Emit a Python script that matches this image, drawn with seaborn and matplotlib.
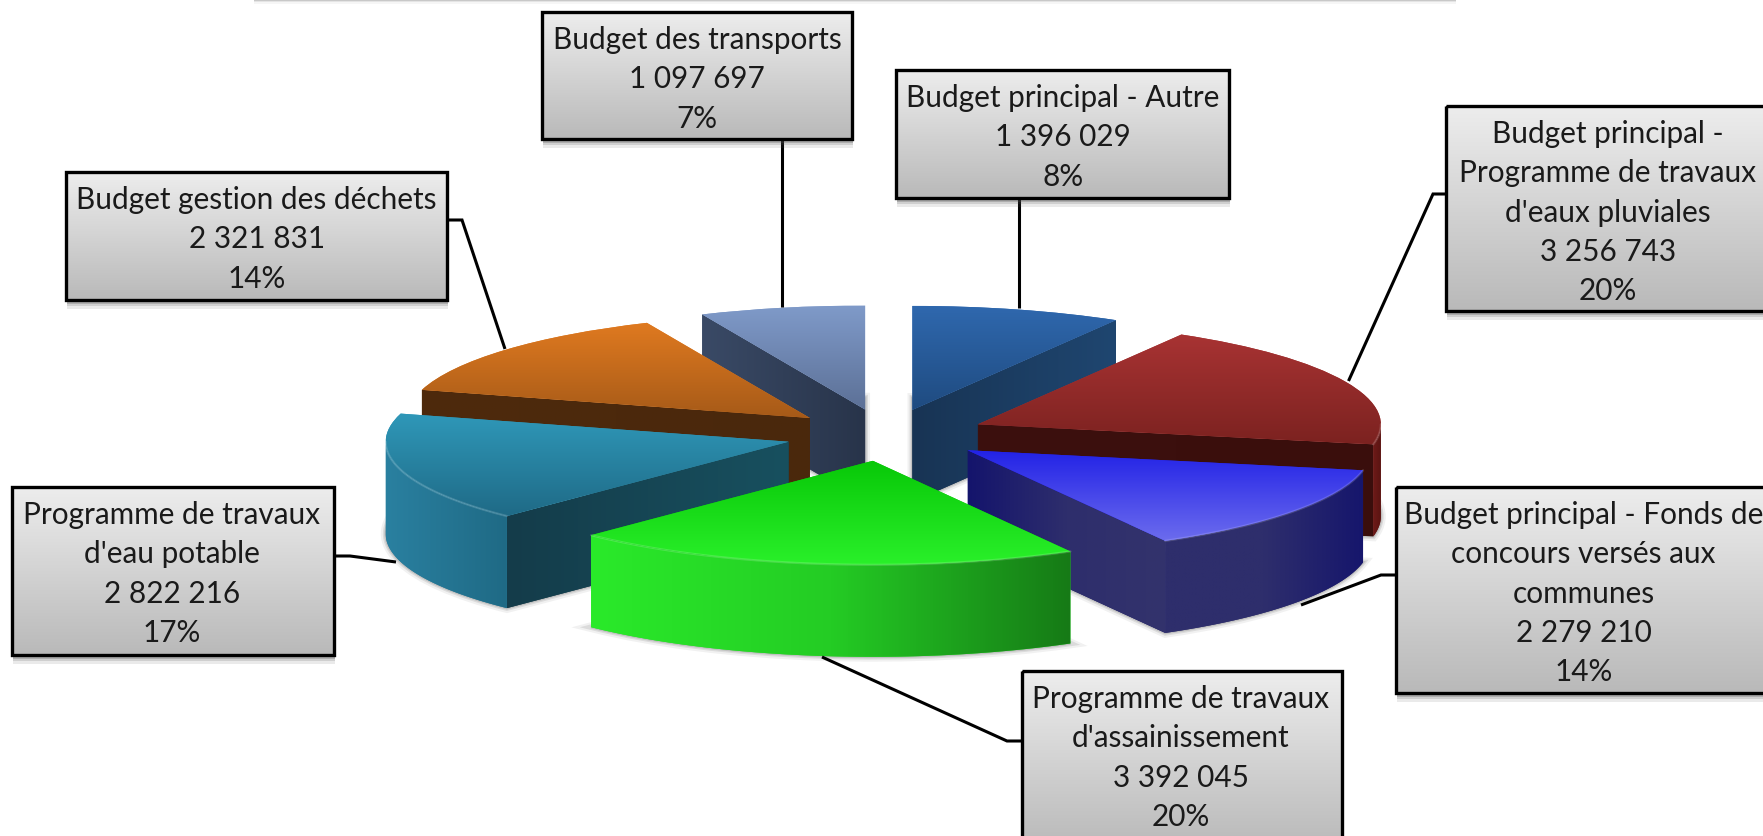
import numpy as np
import matplotlib
matplotlib.use('Agg')
import matplotlib.pyplot as plt
import matplotlib.patches as mpatches
import seaborn as sns

sns.set_theme(style='white')
plt.rcParams['font.family'] = ['Lato', 'DejaVu Sans']

# data, clockwise from 12 o'clock
labels = [
    ['Budget principal - Autre'],
    ['Budget principal -', 'Programme de travaux', "d'eaux pluviales"],
    ['Budget principal - Fonds de', 'concours versés aux', 'communes'],
    ['Programme de travaux', "d'assainissement"],
    ['Programme de travaux', "d'eau potable"],
    ['Budget gestion des déchets'],
    ['Budget des transports'],
]
values = [1396029, 3256743, 2279210, 3392045, 2822216, 2321831, 1097697]

# colours: top face (far, near), outer wall (left, right), cut wall (left, right)
top_colors = [('#2F68AE', '#1F4B80'), ('#A83333', '#7C2220'), ('#2222E6', '#6C6CEE'), ('#08C808', '#2AF02A'),
              ('#2F98B9', '#1F6A86'), ('#E07A20', '#A65A18'), ('#7F9AC9', '#5C7096')]
wall_colors = [('#1F4670', '#1F4670'), ('#6E1A18', '#5A1412'), ('#2E2E6C', '#2E2E6C', '#16166C'),
               ('#2AEA2A', '#24CC24', '#167A16'),
               ('#2A80A0', '#1F6A85'), ('#5A300E', '#4A280C'), ('#3A4A66', '#2C3A50')]
cut_colors = [('#183454', '#1F4670'), ('#3C100E', '#3A0E0C'), ('#14146C', '#2E2E6C', '#33336C'), ('#1A7A1A', '#1A7A1A'),
              ('#143C4A', '#18505F'), ('#4E2A0C', '#4A280C'), ('#3A4A66', '#28344A')]

W, H = 1763, 837
CX, CY = 886, 436     # pie centre in px
RX, RY = 403, 104     # px per unit
WALL = 0.885          # wall height, y units

fig = plt.figure(figsize=(W / 100, H / 100), dpi=100, facecolor='white')
ax = fig.add_axes([0, 0, 1, 1])
wedges, _ = ax.pie(values, explode=[0.25] * len(values), startangle=90, counterclock=False,
                   radius=1, colors=[c[0] for c in top_colors])
ax.set_aspect('auto')
ax.set_xlim(-CX / RX, (W - CX) / RX)
ax.set_ylim(-(H - CY) / RY, CY / RY)
ax.axis('off')


def grad_poly(xy, colors, horizontal, z):
    poly = mpatches.Polygon(xy, closed=True, fc=colors[0], ec='none', zorder=z)
    ax.add_patch(poly)
    fill_gradient(poly, xy[:, 0].min(), xy[:, 0].max(), xy[:, 1].min(), xy[:, 1].max(), colors, horizontal, z)


def fill_gradient(patch, x0, x1, y0, y1, colors, horizontal, z):
    ramp = np.linspace(0, 1, 256)
    ramp = ramp.reshape(1, -1) if horizontal else ramp.reshape(-1, 1)
    im = ax.imshow(ramp, cmap=sns.blend_palette(colors, as_cmap=True), extent=[x0, x1, y0, y1],
                   aspect='auto', origin='upper', zorder=z, interpolation='bilinear')
    im.set_clip_path(patch)


def unit(theta):
    return np.array([np.cos(np.radians(theta)), np.sin(np.radians(theta))])


order = sorted(range(len(wedges)), key=lambda i: -wedges[i].center[1])
z = 2
for i in order:
    w = wedges[i]
    c = np.array(w.center)
    t1, t2 = w.theta1, w.theta2
    mid = unit((t1 + t2) / 2)

    # soft ground shadow
    for lw, a in [(7, 0.10), (4, 0.18), (2, 0.25)]:
        ax.add_patch(mpatches.Wedge((c[0], c[1] - WALL), 1, t1, t2, fc='#777777', ec='#777777',
                                    lw=lw, alpha=a, zorder=z))
    z += 1

    # cut faces, only those turned to the viewer
    for t in (t1, t2):
        p = unit(t)
        if abs(p[0]) < 1e-6 or mid[1] <= p[1] / p[0] * mid[0]:
            continue
        a, b = c, c + p
        xy = np.array([a, b, b - [0, WALL], a - [0, WALL]])
        grad_poly(xy, cut_colors[i], True, z)
        z += 1

    # outer wall, front half of the rim only
    lo, hi = max(t1, -180), min(t2, 0)
    if lo < hi:
        arc = np.array([c + unit(t) for t in np.linspace(lo, hi, 80)])
        xy = np.vstack([arc, arc[::-1] - [0, WALL]])
        grad_poly(xy, wall_colors[i], True, z)
        z += 1

    # top face
    w.set_edgecolor('none')
    w.set_zorder(z)
    pts = np.array([c] + [c + unit(t) for t in np.linspace(t1, t2, 80)])
    fill_gradient(w, pts[:, 0].min(), pts[:, 0].max(), pts[:, 1].min(), pts[:, 1].max(),
                  top_colors[i], False, z + 1)
    z += 2

    # light rim on the front edge
    if lo < hi:
        ax.plot(arc[:, 0], arc[:, 1], color='white', alpha=0.16, lw=1.6, zorder=z)
        z += 1

# callouts, in pixels
ov = fig.add_axes([0, 0, 1, 1], zorder=10)
ov.set_xlim(0, W)
ov.set_ylim(H, 0)
ov.axis('off')
ov.patch.set_alpha(0)

boxes = [(896, 1229, 71, 199), (1446, 1775, 107, 312), (1396, 1775, 488, 694), (1022, 1342, 672, 850),
         (11.5, 334, 488, 656), (66, 447, 173, 301), (542, 852, 13, 140)]
text_x = [1063, 1608, 1583.5, 1181, 172, 256.6, 697]
leaders = [[(1019, 199), (1019, 309)],
           [(1446, 195), (1433, 195), (1348.5, 382)],
           [(1396, 576), (1381, 576), (1301, 606)],
           [(1022, 742), (1007, 742), (822, 658)],
           [(334, 557), (350, 557), (396, 563)],
           [(447, 221), (462, 221), (505, 350)],
           [(782, 140), (782, 308)]]

# strip of the title box cut off by the top of the picture
for dy, a in [(5, 0.06), (3, 0.12), (1.5, 0.22)]:
    ov.add_patch(mpatches.Rectangle((254, -5), 1202, 5 + dy, fc='#666666', ec='none', alpha=a))

total = sum(values)
for lab, val, (x0, x1, y0, y1), tx, lead in zip(labels, values, boxes, text_x, leaders):
    ov.plot(*zip(*lead), color='black', lw=2.2, solid_capstyle='butt', solid_joinstyle='miter', zorder=2)
    for off, a in [(9, 0.12), (6, 0.18), (4, 0.28)]:
        ov.add_patch(mpatches.Rectangle((x0 + 1, y0 + off), x1 - x0, y1 - y0, fc='#555555', ec='none',
                                        alpha=a, zorder=3))
    rect = mpatches.Rectangle((x0, y0), x1 - x0, y1 - y0, fc='none', ec='black', lw=2.4, zorder=5)
    ov.add_patch(rect)
    im = ov.imshow(np.linspace(0, 1, 256).reshape(-1, 1),
                   cmap=sns.blend_palette(['#EDEDED', '#B9B9B9'], as_cmap=True),
                   extent=[x0, x1, y1, y0], aspect='auto', origin='upper', zorder=4)
    lines = lab + [f'{val:,}'.replace(',', ' '), f'{val / total:.0%}']
    for k, line in enumerate(lines):
        ov.text(tx, y0 + 36 + k * 39.3, line, ha='center', va='baseline', fontsize=21.4,
                color='#1A1A1A', zorder=6)
ov.set_xlim(0, W)
ov.set_ylim(H, 0)

fig.savefig('out.png', dpi=100)
